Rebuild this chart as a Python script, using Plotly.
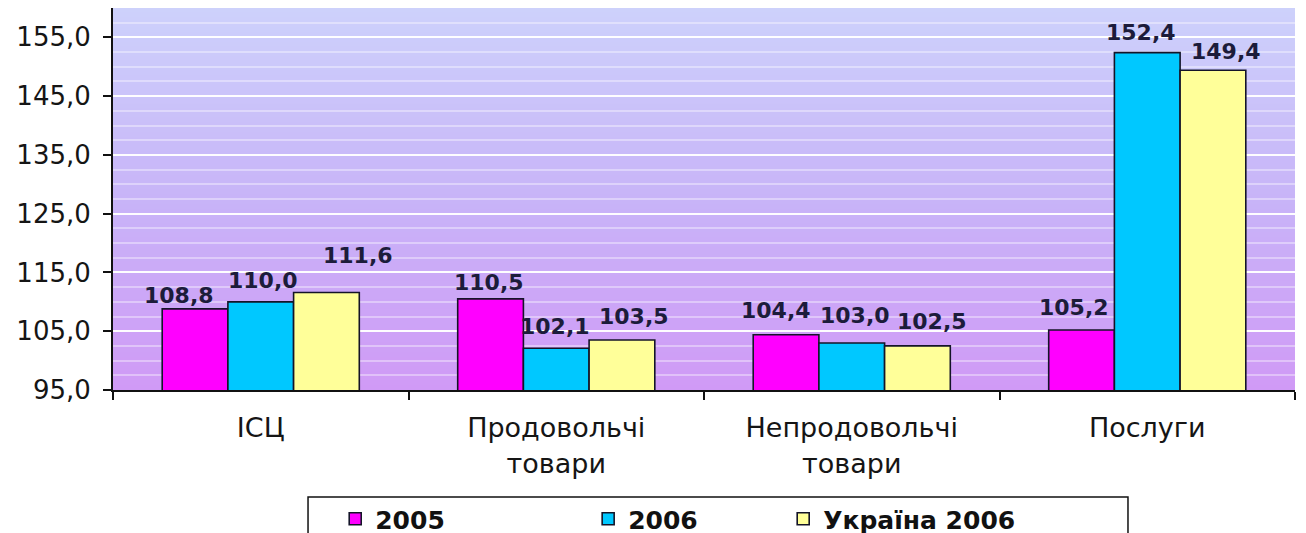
import plotly.graph_objects as go

categories = ["ІСЦ", "Продовольчі<br>товари", "Непродовольчі<br>товари", "Послуги"]
series_names = ["2005", "2006", "Україна 2006"]
values_2005 = [108.8, 110.5, 104.4, 105.2]
values_2006 = [110.0, 102.1, 103.0, 152.4]
values_ua2006 = [111.6, 103.5, 102.5, 149.4]
y_tickvals = [95, 105, 115, 125, 135, 145, 155]

series_values = [values_2005, values_2006, values_ua2006]
bar_colors = ["#ff00ff", "#00c8ff", "#ffff99"]

# label placement tweaks (pixels) mimicking the hand-moved labels of the original
label_dx = [[-16, -2, -10, -8], [2, -1, 3, -6], [32, 12, 15, 13]]
label_dy = [[13, 16, 24, 23], [21, 22, 27, 20], [37, 24, 24, 19]]

BARGAP = 0.333
legend_names = ["legend", "legend2", "legend3"]
legend_x = [0.1880, 0.4020, 0.5670]

def fmt(v):
    return f"{v:.1f}".replace(".", ",")

fig = go.Figure()
for name, vals, col, lg in zip(series_names, series_values, bar_colors, legend_names):
    fig.add_trace(go.Bar(
        name=name, x=categories, y=vals, legend=lg,
        marker=dict(color=col, line=dict(color="#141428", width=1.6)),
    ))

# background gradient (bottom lilac -> top periwinkle)
stops = [(0.0, (208, 154, 246)), (0.5, (200, 180, 248)), (1.0, (205, 209, 251))]
def lerp_color(t):
    for (t0, c0), (t1, c1) in zip(stops[:-1], stops[1:]):
        if t0 <= t <= t1:
            f = (t - t0) / (t1 - t0)
            return "rgb(%d,%d,%d)" % tuple(round(a + (b - a) * f) for a, b in zip(c0, c1))
    return "rgb(%d,%d,%d)" % stops[-1][1]

n_bands = 80
shapes = []
for k in range(n_bands):
    shapes.append(dict(
        type="rect", xref="x domain", yref="y domain",
        x0=0, x1=1, y0=k / n_bands, y1=(k + 1) / n_bands + 0.002,
        fillcolor=lerp_color((k + 0.5) / n_bands), line=dict(width=0), layer="below",
    ))
# legend frame (runs past the bottom edge as in the original)
shapes.append(dict(
    type="rect", xref="paper", yref="paper",
    x0=0.165, x1=0.8587, y0=-0.6, y1=-0.2801,
    fillcolor="rgba(0,0,0,0)", line=dict(color="#111111", width=1.5), layer="above",
))

annotations = []
w = (1 - BARGAP) / 3
for j, vals in enumerate(series_values):
    for i, v in enumerate(vals):
        annotations.append(dict(
            x=i + (j - 1) * w, y=v, xref="x", yref="y",
            text=fmt(v), showarrow=False, yanchor="middle", xanchor="center",
            xshift=label_dx[j][i], yshift=label_dy[j][i],
            font=dict(family="DejaVu Sans", size=22, color="#1c1c3a", weight="bold"),
        ))

legend_style = dict(
    orientation="h", xanchor="left", y=-0.2775, yanchor="top",
    bgcolor="rgba(0,0,0,0)", borderwidth=0,
    font=dict(family="DejaVu Sans", size=25, color="#111111", weight="bold"),
    itemwidth=30,
)

fig.update_layout(
    width=1306, height=533,
    margin=dict(l=105, r=19, t=0, b=151, autoexpand=False),
    paper_bgcolor="white", plot_bgcolor="rgba(0,0,0,0)",
    barmode="group", bargap=BARGAP, bargroupgap=0,
    separators=", ",
    shapes=shapes, annotations=annotations,
    showlegend=True,
    legend=dict(x=legend_x[0], **legend_style),
    legend2=dict(x=legend_x[1], **legend_style),
    legend3=dict(x=legend_x[2], **legend_style),
)

fig.update_yaxes(
    range=[95, 160], tickvals=y_tickvals, tickformat=".1f",
    showline=True, linecolor="#111111", linewidth=2,
    ticks="outside", ticklen=8, tickcolor="#111111", tickwidth=1.5,
    ticklabelstandoff=7,
    tickfont=dict(family="DejaVu Sans", size=26, color="#151515"),
    showgrid=True, gridcolor="rgba(255,255,255,0.95)", gridwidth=2,
    minor=dict(dtick=2.5, tick0=95, showgrid=True,
               gridcolor="rgba(255,255,255,0.38)", gridwidth=1.5),
    zeroline=False,
)
fig.update_xaxes(
    type="category",
    showline=True, linecolor="#111111", linewidth=2,
    ticks="outside", tickson="boundaries", ticklen=8, tickcolor="#111111", tickwidth=1.5,
    ticklabelstandoff=13,
    tickfont=dict(family="DejaVu Sans", size=27, color="#151515"),
    showgrid=False,
)

fig.write_html("out.html")
